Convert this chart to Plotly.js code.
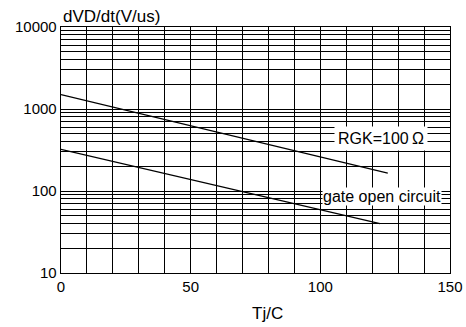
<!DOCTYPE html>
<html>
<head>
<meta charset="utf-8">
<script src="https://cdn.plot.ly/plotly-3.0.1.min.js"></script>
<style>
html,body{margin:0;padding:0;background:#fff;}
#chart{width:466px;height:327px;}
</style>
</head>
<body>
<div id="chart"></div>
<script>
// Data
var rgkTemp = [0, 126];
var rgkDvdt = [1500, 165];
var gateTemp = [0, 123];
var gateDvdt = [322, 40];

var yTickVals = [10, 100, 1000, 10000];
var yTickText = ["10", "100", "1000", "10000"];
var xTickVals = [0, 50, 100, 150];

var seriesNames = ["RGK=100\u2009\u03A9", "gate open circuit"];
var yTitle = "dVD/dt(V/us)";
var xTitle = "Tj/C";

// minor log gridlines 2..9 per decade
var yMinor = [];
for (var d = 10; d < 10000; d *= 10) {
  for (var k = 2; k <= 9; k++) yMinor.push(k * d);
}

var font = "Arial, 'Liberation Sans', sans-serif";

var traces = [
  {x: rgkTemp, y: rgkDvdt, type: "scatter", mode: "lines",
   line: {color: "#000", width: 1.3}, name: seriesNames[0], hoverinfo: "none"},
  {x: gateTemp, y: gateDvdt, type: "scatter", mode: "lines",
   line: {color: "#000", width: 1.3}, name: seriesNames[1], hoverinfo: "none"}
];

var layout = {
  width: 466, height: 327,
  margin: {l: 61, r: 16, t: 27, b: 54},
  paper_bgcolor: "#fff", plot_bgcolor: "#fff",
  showlegend: false,
  font: {family: font, size: 15, color: "#000"},
  xaxis: {
    type: "linear", range: [0, 150],
    tickmode: "array", tickvals: xTickVals,
    showgrid: true, gridcolor: "#000", gridwidth: 1,
    minor: {dtick: 10, showgrid: true, gridcolor: "#000", gridwidth: 1, ticks: ""},
    showline: true, linecolor: "#000", linewidth: 1.3, mirror: true,
    ticks: "", zeroline: false,
    tickfont: {family: font, size: 15, color: "#000"}
  },
  yaxis: {
    type: "log", range: [1, 4],
    tickmode: "array", tickvals: yTickVals, ticktext: yTickText,
    showgrid: true, gridcolor: "#000", gridwidth: 1,
    minor: {tickmode: "array", tickvals: yMinor, showgrid: true, gridcolor: "#000", gridwidth: 1, ticks: ""},
    showline: true, linecolor: "#000", linewidth: 1.3, mirror: true,
    ticks: "", ticklen: 3, zeroline: false,
    tickfont: {family: font, size: 15, color: "#000"}
  },
  annotations: [
    {text: yTitle, xref: "paper", yref: "paper", x: 0, y: 1, xanchor: "left", yanchor: "bottom",
     yshift: -1, showarrow: false, font: {family: font, size: 17, color: "#000"}},
    {text: xTitle, xref: "paper", yref: "paper", x: 0.53, y: 0, xanchor: "center", yanchor: "middle",
     yshift: -40, showarrow: false, font: {family: font, size: 17, color: "#000"}},
    {text: seriesNames[0], xref: "paper", yref: "paper", x: 0.823, y: 0.545, xanchor: "center", yanchor: "middle",
     showarrow: false, bgcolor: "#fff", borderpad: 3, font: {family: font, size: 16, color: "#000"}},
    {text: seriesNames[1], xref: "paper", yref: "paper", x: 0.825, y: 0.309, xanchor: "center", yanchor: "middle",
     showarrow: false, bgcolor: "#fff", borderpad: 0, font: {family: font, size: 16, color: "#000"}}
  ]
};

Plotly.newPlot("chart", traces, layout, {staticPlot: true, displayModeBar: false});
</script>
</body>
</html>
